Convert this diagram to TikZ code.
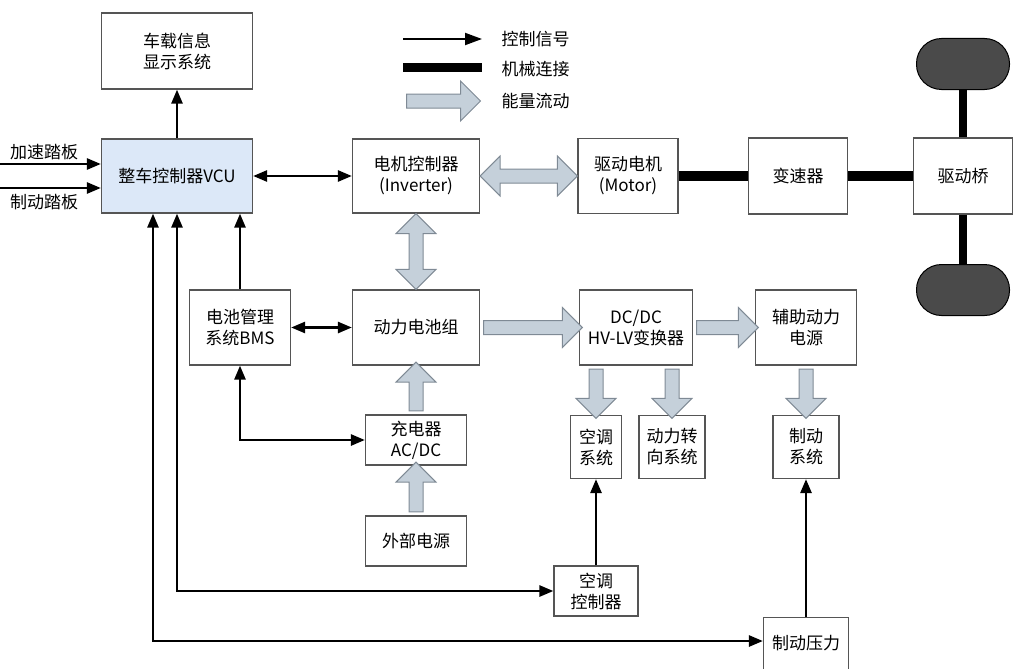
\documentclass[tikz,border=0pt]{standalone}
\usepackage{fontspec}
\setmainfont{Noto Sans CJK SC}
\usetikzlibrary{arrows.meta,calc,shapes.arrows}

\definecolor{vcublue}{HTML}{DCE8F8}
\definecolor{energyfill}{HTML}{C5D0DA}
\definecolor{energyline}{HTML}{7F8A95}
\definecolor{boxline}{HTML}{555555}
\definecolor{wheelgray}{HTML}{4A4A4A}

\tikzset{
  txt/.style={font=\fontsize{17}{21}\selectfont, align=center},
  block/.style={txt, draw=boxline, line width=1.2pt, fill=white, inner sep=2pt},
  sig/.style={line width=2.6pt, -{Triangle[length=14pt,width=11pt]}},
  sigboth/.style={line width=2.6pt, {Triangle[length=14pt,width=11pt]}-{Triangle[length=14pt,width=11pt]}},
  mech/.style={line width=10pt},
  energy/.style={draw=energyline, fill=energyfill, line width=1pt, inner sep=0pt, inner ysep=6.5pt, minimum width=0pt},
  wheel/.style={draw=black, fill=wheelgray, line width=1pt, rounded corners=25pt, minimum width=93pt, minimum height=51pt}
}

\newcommand{\EnergyEdge}[3][single arrow]{%
  \path let \p1=($(#3)-(#2)$), \n1={veclen(\x1,\y1)}, \n2={atan2(\y1,\x1)} in
    node[energy, #1, single arrow head extend=13pt, double arrow head extend=13pt,
         minimum height=\n1, rotate=\n2] at ($(#2)!0.5!(#3)$) {};}

\begin{document}
\begin{tikzpicture}[x=1pt, y=-1pt]
\useasboundingbox (0,0) rectangle (1036,669);

\node[block, minimum width=151pt, minimum height=76pt] (disp) at (177,51) {车载信息\\显示系统};
\node[block, fill=vcublue, minimum width=151pt, minimum height=74pt] (vcu) at (177,176) {整车控制器VCU};
\node[block, minimum width=127pt, minimum height=74pt] (inv) at (416,176) {电机控制器\\(Inverter)};
\node[block, minimum width=100pt, minimum height=75pt] (motor) at (628,176) {驱动电机\\(Motor)};
\node[block, minimum width=99pt, minimum height=76pt] (gear) at (798,176) {变速器};
\node[block, minimum width=99pt, minimum height=76pt] (axle) at (963,176) {驱动桥};
\node[wheel] (wtop) at (963,64) {};
\node[wheel] (wbot) at (963,290) {};

\node[block, minimum width=101pt, minimum height=75pt] (bms) at (240,327.5) {电池管理\\系统BMS};
\node[block, minimum width=127pt, minimum height=75pt] (batt) at (416,327.5) {动力电池组};
\node[block, minimum width=101pt, minimum height=50pt] (chg) at (416,440) {充电器\\AC/DC};
\node[block, minimum width=101pt, minimum height=50pt] (ext) at (416,541) {外部电源};
\node[block, minimum width=113pt, minimum height=75pt] (dcdc) at (636,327.5) {DC/DC\\HV-LV变换器};
\node[block, minimum width=101pt, minimum height=75pt] (aux) at (806,327.5) {辅助动力\\电源};
\node[block, minimum width=51pt, minimum height=63pt] (ac) at (596,447) {空调\\系统};
\node[block, minimum width=66pt, minimum height=63pt] (steer) at (672,447) {动力转\\向系统};
\node[block, minimum width=66pt, minimum height=63pt] (brks) at (806,447) {制动\\系统};
\node[block, minimum width=84pt, minimum height=50pt] (acc) at (596,591) {空调\\控制器};
\node[block, minimum width=85pt, minimum height=70pt, anchor=north] (bp) at (806,617) {制动压力\\\mbox{}};

\node[txt] (accLbl) at (44,152) {加速踏板};
\node[txt] (brkLbl) at (44,202) {制动踏板};
\coordinate (accIn) at (0,164);
\coordinate (brkIn) at (0,188);
\coordinate (vcuL) at ($(vcu.south)+(-24,0)$);
\coordinate (bpIn) at ($(bp.north west)+(0,24)$);
\coordinate (acTop) at (ac.north |- dcdc.south);
\coordinate (stTop) at (steer.north |- dcdc.south);

\coordinate (lgS1) at (403,39);  \coordinate (lgS2) at (482,39);
\coordinate (lgM1) at (403,68);  \coordinate (lgM2) at (482,68);
\coordinate (lgE1) at (403,101); \coordinate (lgE2) at (477,101);
\node[txt, anchor=west] (lgSig) at (498,39) {控制信号};
\node[txt, anchor=west] (lgMech) at (498,69) {机械连接};
\node[txt, anchor=west] (lgEn) at (498,101) {能量流动};
\draw[line width=2pt, -{Triangle[length=17pt,width=12pt]}] (lgS1) -- (lgS2);
\draw[mech, line width=9pt] (lgM1) -- (lgM2);
\EnergyEdge{lgE1}{lgE2}

\draw[sig] (accIn) -- (accIn -| vcu.west);
\draw[sig] (brkIn) -- (brkIn -| vcu.west);
\draw[sig] (vcu.north) -- (disp.south);
\draw[sigboth] (vcu.east) -- (inv.west);
\draw[sig] (bms.north) -- (bms.north |- vcu.south);
\draw[sigboth] (bms.east) -- (batt.west);
\draw[sigboth] (chg.west) -| (bms.south);
\draw[sigboth] (acc.west) -| (vcu.south);
\draw[sigboth] (bpIn) -| (vcuL);
\draw[sig] (acc.north) -- (ac.south);
\draw[sig] (bp.north) -- (brks.south);

\draw[mech] (motor.east) -- (gear.west);
\draw[mech] (gear.east) -- (axle.west);
\draw[mech, line width=8pt] (wtop.south) -- (axle.north);
\draw[mech, line width=8pt] (axle.south) -- (wbot.north);

\EnergyEdge[double arrow]{inv.east}{motor.west}
\EnergyEdge[double arrow]{inv.south}{batt.north}
\EnergyEdge{chg.north}{batt.south}
\EnergyEdge{ext.north}{chg.south}
\EnergyEdge{batt.east}{dcdc.west}
\EnergyEdge{dcdc.east}{aux.west}
\EnergyEdge{acTop}{ac.north}
\EnergyEdge{stTop}{steer.north}
\EnergyEdge{aux.south}{brks.north}
\end{tikzpicture}
\end{document}
